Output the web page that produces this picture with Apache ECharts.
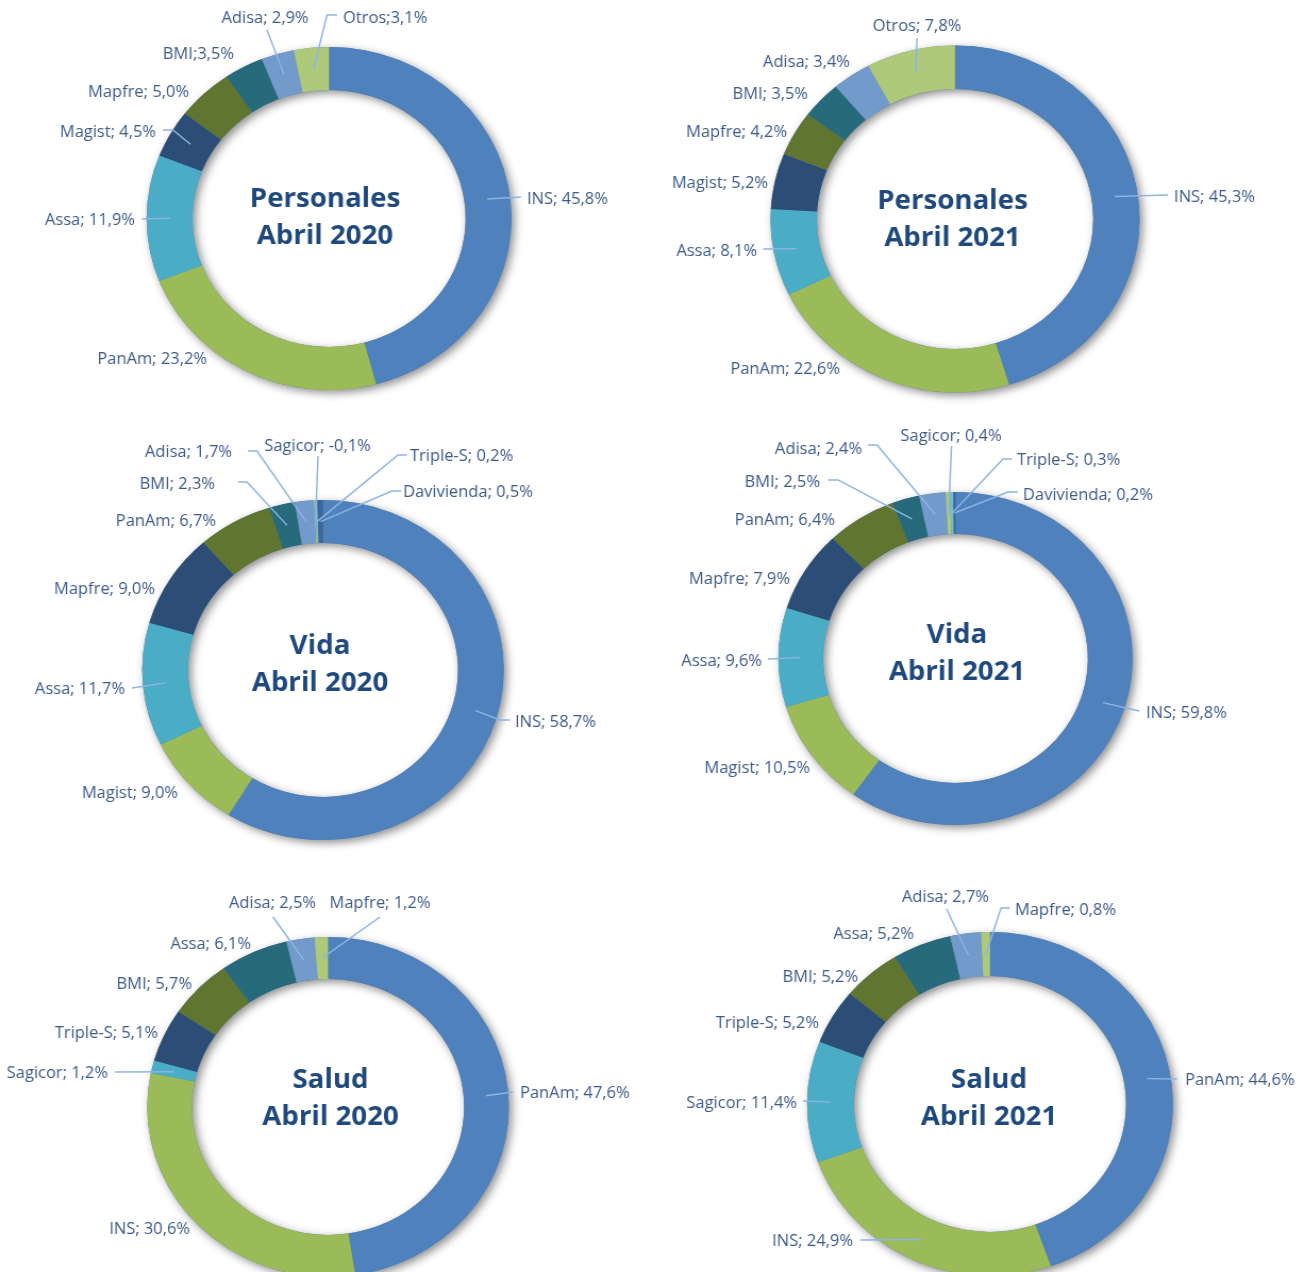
<!DOCTYPE html>
<html lang="es">
<head>
  <meta charset="utf-8">
  <title>Participación por ramo - Abril 2020 / Abril 2021</title>
  <script type="text/javascript" src="https://cdn.jsdelivr.net/npm/echarts@6/dist/echarts.min.js"></script>
  <style type="text/css">
    * {
      margin: 0;
      padding: 0;
    }
    html, body {
      width: 100%;
      height: 100%;
      overflow: hidden;
      background: #fff;
    }
    /* el original esta estirado en horizontal: se dibuja mas angosto y se escala */
    #donas {
      width: 1227px;
      height: 1272px;
      transform: scaleX(1.0636);
      transform-origin: 0 0;
    }
  </style>
</head>
<body>
  <div id="donas"></div>
  <script type="text/javascript">
    // ---- datos (% de participacion) ----
    var personales2020Names = ['INS', 'PanAm', 'Assa', 'Magist', 'Mapfre', 'BMI', 'Adisa', 'Otros'];
    var personales2020Values = [45.8, 23.2, 11.9, 4.5, 5.0, 3.5, 2.9, 3.1];

    var personales2021Names = ['INS', 'PanAm', 'Assa', 'Magist', 'Mapfre', 'BMI', 'Adisa', 'Otros'];
    var personales2021Values = [45.3, 22.6, 8.1, 5.2, 4.2, 3.5, 3.4, 7.8];

    var vida2020Names = ['INS', 'Magist', 'Assa', 'Mapfre', 'PanAm', 'BMI', 'Adisa', 'Sagicor', 'Triple-S', 'Davivienda'];
    var vida2020Values = [58.7, 9.0, 11.7, 9.0, 6.7, 2.3, 1.7, -0.1, 0.2, 0.5];

    var vida2021Names = ['INS', 'Magist', 'Assa', 'Mapfre', 'PanAm', 'BMI', 'Adisa', 'Sagicor', 'Triple-S', 'Davivienda'];
    var vida2021Values = [59.8, 10.5, 9.6, 7.9, 6.4, 2.5, 2.4, 0.4, 0.3, 0.2];

    var salud2020Names = ['PanAm', 'INS', 'Sagicor', 'Triple-S', 'BMI', 'Assa', 'Adisa', 'Mapfre'];
    var salud2020Values = [47.6, 30.6, 1.2, 5.1, 5.7, 6.1, 2.5, 1.2];

    var salud2021Names = ['PanAm', 'INS', 'Sagicor', 'Triple-S', 'BMI', 'Assa', 'Adisa', 'Mapfre'];
    var salud2021Values = [44.6, 24.9, 11.4, 5.2, 5.2, 5.2, 2.7, 0.8];

    var chartTitles = ['Personales\nAbril 2020', 'Personales\nAbril 2021', 'Vida\nAbril 2020',
                       'Vida\nAbril 2021', 'Salud\nAbril 2020', 'Salud\nAbril 2021'];
    // etiquetas sin espacio tras el ";" (asi vienen en el original)
    var tightLabels = [['BMI', 'Otros'], [], [], [], [], []];

    // ---- estilo ----
    var palette = ['#4F81BD', '#9BBB59', '#4BACC6', '#2C4D75', '#5F7530',
                   '#276A7C', '#729ACA', '#AFC97A', '#6FBDD1', '#3A679C'];
    var SX = 1.0636;
    var LABEL_DY = 2;
    var TITLE_DY = 3;
    var labelColor = '#3D5A89';
    var titleColor = '#1F497D';
    var leaderColor = '#8DB4E2';

    function X(x) { return x / SX; }

    // posiciones en pixeles de la imagen original: centro, radios, titulo y etiquetas
    var layouts = [
      { c: [329, 218.5], r: [128.5, 171.5], t: [325, 215.5], labels: [
        { x: 527, y: 198, al: 'left', end: [521, 197] },
        { x: 207, y: 358, al: 'right' },
        { x: 135, y: 219, al: 'right', end: [142, 219] },
        { x: 156, y: 131, al: 'right', end: [163, 130], bend: [173, 130] },
        { x: 189, y: 91, al: 'right' },
        { x: 234, y: 53, al: 'right' },
        { x: 265, y: 17, al: 'center', end: [267, 30] },
        { x: 343, y: 17, al: 'left', end: [337, 15], bend: [327, 15] }
      ] },
      { c: [955, 219], r: [130, 173.5], t: [952.5, 217], labels: [
        { x: 1174, y: 196, al: 'left', end: [1168, 195] },
        { x: 840, y: 368, al: 'right' },
        { x: 757, y: 250, al: 'right', end: [763, 249] },
        { x: 768, y: 182, al: 'right' },
        { x: 787, y: 131, al: 'right' },
        { x: 808, y: 93, al: 'right' },
        { x: 850, y: 61, al: 'right' },
        { x: 917, y: 25, al: 'center', end: [917, 38] }
      ] },
      { c: [323, 670], r: [127, 170], t: [320, 662.5], labels: [
        { x: 515, y: 721, al: 'left', end: [510, 720], bend: [500, 720] },
        { x: 178, y: 792, al: 'right' },
        { x: 125, y: 688, al: 'right', end: [132, 688] },
        { x: 155, y: 588, al: 'right' },
        { x: 216, y: 520, al: 'right' },
        { x: 215, y: 483, al: 'right', end: [238, 482], bend: [247, 482] },
        { x: 232, y: 451, al: 'right', end: [248, 451], bend: [257, 451] },
        { x: 317.5, y: 445, al: 'center', end: [318, 456] },
        { x: 410, y: 455, al: 'left', end: [407, 455], bend: [398, 455] },
        { x: 403, y: 491, al: 'left', end: [401, 491], bend: [392, 491] }
      ] },
      { c: [955.5, 658.5], r: [124.5, 166.5], t: [957, 651.5], labels: [
        { x: 1146, y: 712, al: 'left', end: [1139, 711] },
        { x: 810, y: 767, al: 'right' },
        { x: 762, y: 660, al: 'right', end: [768, 659] },
        { x: 790, y: 578, al: 'right' },
        { x: 835, y: 519, al: 'right' },
        { x: 820, y: 481, al: 'right', end: [828, 480], bend: [838, 480] },
        { x: 862, y: 448, al: 'right', end: [868, 445], bend: [877, 445] },
        { x: 951, y: 435, al: 'center', end: [951.5, 446] },
        { x: 1017, y: 459, al: 'left', end: [1012, 459], bend: [1003, 459] },
        { x: 1023, y: 494, al: 'left', end: [1018, 492], bend: [1008, 492] }
      ] },
      { c: [328, 1107], r: [128, 170], t: [330.5, 1096.5], labels: [
        { x: 520, y: 1092, al: 'left', end: [513, 1092] },
        { x: 190, y: 1228, al: 'right' },
        { x: 108, y: 1072, al: 'right', end: [115, 1072] },
        { x: 158, y: 1032, al: 'right' },
        { x: 192, y: 983, al: 'right' },
        { x: 251, y: 943, al: 'right' },
        { x: 272.5, y: 902, al: 'center', end: [273, 917] },
        { x: 380, y: 902, al: 'center', end: [380, 917] }
      ] },
      { c: [990, 1104], r: [128, 172], t: [989, 1096], labels: [
        { x: 1185, y: 1079, al: 'left', end: [1177, 1079] },
        { x: 853, y: 1240, al: 'right', end: [860, 1240] },
        { x: 797, y: 1102, al: 'right', end: [803, 1101] },
        { x: 819, y: 1022, al: 'right' },
        { x: 858, y: 976, al: 'right' },
        { x: 914, y: 933, al: 'right' },
        { x: 945.5, y: 896, al: 'center', end: [946.5, 909] },
        { x: 1015, y: 909, al: 'left', end: [1010, 908], bend: [1001, 908] }
      ] }
    ];

    var chartNames = [personales2020Names, personales2021Names, vida2020Names,
                      vida2021Names, salud2020Names, salud2021Names];
    var chartValues = [personales2020Values, personales2021Values, vida2020Values,
                       vida2021Values, salud2020Values, salud2021Values];

    function pct(v) {
      return v.toFixed(1).replace('.', ',') + '%';
    }

    function buildSeries(k) {
      var names = chartNames[k], values = chartValues[k], lay = layouts[k];
      var cx = X(lay.c[0]), cy = lay.c[1];
      var rIn = lay.r[0], rOut = lay.r[1], rMid = (rIn + rOut) / 2;
      var total = values.reduce(function (s, v) { return s + Math.abs(v); }, 0);
      // punto de arranque de la linea guia: mitad del anillo, en el angulo medio del sector
      var starts = [];
      var cum = 0;
      values.forEach(function (v) {
        var a = (cum + Math.abs(v) / 2) / total * 2 * Math.PI;
        starts.push([cx + rMid * Math.sin(a), cy - rMid * Math.cos(a)]);
        cum += Math.abs(v);
      });
      var common = {
        type: 'pie',
        animation: false,
        center: [cx, cy],
        radius: [rIn, rOut],
        startAngle: 90,
        clockwise: true,
        avoidLabelOverlap: false,
        emphasis: { disabled: true }
      };
      var slices = names.map(function (n, i) {
        return { name: n, value: Math.abs(values[i]), itemStyle: { color: palette[i] } };
      });
      // copia transparente encima, solo para que etiquetas y lineas queden sobre el anillo
      var overlay = names.map(function (n, i) {
        return {
          name: n,
          value: Math.abs(values[i]),
          raw: values[i],
          itemStyle: { color: 'rgba(0,0,0,0)' },
          labelLine: { show: !!lay.labels[i].end }
        };
      });
      return [
        // anillo de fondo solo para la sombra
        {
          type: 'pie',
          silent: true,
          animation: false,
          z: 1,
          center: [cx, cy],
          radius: [rIn, rOut],
          label: { show: false },
          labelLine: { show: false },
          data: [{
            value: 1,
            itemStyle: {
              color: '#5A7EA9',
              shadowBlur: 8,
              shadowOffsetX: 3,
              shadowOffsetY: 3,
              shadowColor: 'rgba(0, 0, 0, 0.45)'
            }
          }]
        },
        Object.assign({}, common, {
          z: 2,
          label: { show: false },
          labelLine: { show: false },
          data: slices
        }),
        Object.assign({}, common, {
          z: 3,
          silent: true,
          label: {
            show: true,
            position: 'outside',
            color: labelColor,
            fontFamily: '"Open Sans", sans-serif',
            fontSize: 15.5,
            formatter: function (p) {
              var sep = tightLabels[k].indexOf(p.name) >= 0 ? ';' : '; ';
              return p.name + sep + pct(p.data.raw);
            }
          },
          labelLine: {
            show: true,
            lineStyle: { color: leaderColor, width: 1.4 }
          },
          labelLayout: function (p) {
            var s = lay.labels[p.dataIndex];
            var out = { x: X(s.x), y: s.y + LABEL_DY, align: s.al, verticalAlign: 'middle' };
            if (s.end) {
              var b = s.bend || s.end;
              out.labelLinePoints = [starts[p.dataIndex], [X(b[0]), b[1]], [X(s.end[0]), s.end[1]]];
            }
            return out;
          },
          data: overlay
        })
      ];
    }

    var series = [];
    for (var k = 0; k < 6; k++) {
      series = series.concat(buildSeries(k));
    }

    var option = {
      backgroundColor: '#fff',
      animation: false,
      graphic: layouts.map(function (lay, k) {
        return {
          type: 'text',
          x: X(lay.t[0]),
          y: lay.t[1] + TITLE_DY,
          z: 100,
          style: {
            text: chartTitles[k],
            fill: titleColor,
            fontFamily: '"Open Sans", sans-serif',
            fontWeight: 'bold',
            fontSize: 26,
            lineHeight: 37,
            align: 'center',
            verticalAlign: 'middle'
          }
        };
      }),
      series: series
    };

    var chart = echarts.init(document.getElementById('donas'));
    chart.setOption(option);
  </script>
</body>
</html>
